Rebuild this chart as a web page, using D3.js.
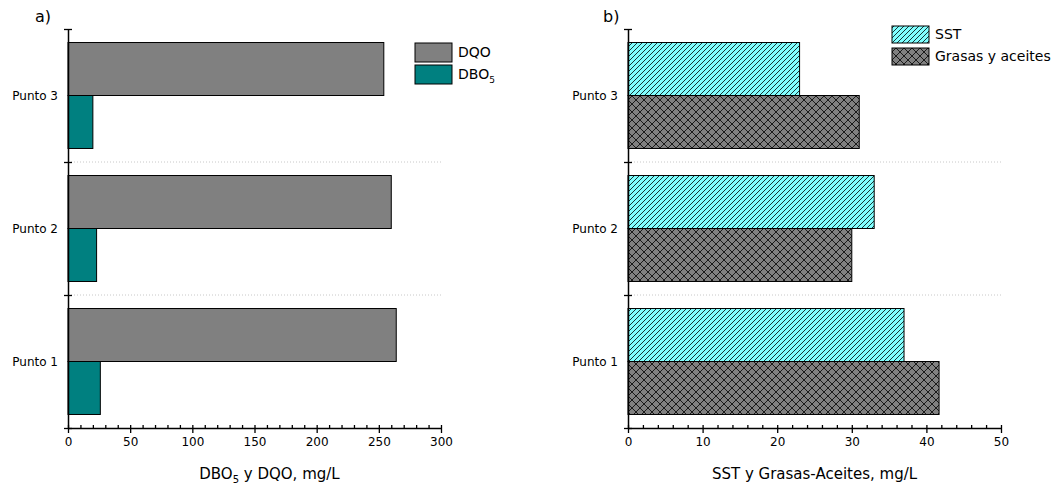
<!DOCTYPE html>
<html>
<head>
<meta charset="utf-8">
<script src="https://cdn.jsdelivr.net/npm/d3@7"></script>
<style>
  body { margin: 0; background: #fff; }
  text { font-family: Verdana, "DejaVu Sans", sans-serif; fill: #000; }
</style>
</head>
<body>
<svg id="chart" width="1051" height="488"></svg>
<script>
// data
let puntos = ["Punto 3", "Punto 2", "Punto 1"];
let dqo = [254, 260, 264];
let dbo5 = [20, 23, 26];
let sst = [23, 33, 37];
let grasas = [31, 30, 41.7];

let svg = d3.select("#chart");
let yTop = 29;
let yBottom = 428;

// patterns for panel b
let defs = svg.append("defs");
let hatch = defs.append("pattern")
  .attr("id", "hatchSST")
  .attr("patternUnits", "userSpaceOnUse")
  .attr("width", 5)
  .attr("height", 5);
hatch.append("rect").attr("width", 5).attr("height", 5).attr("fill", "#80ffff");
hatch.append("path")
  .attr("d", "M0,5 L5,0 M-1,1 L1,-1 M4,6 L6,4")
  .attr("stroke", "#000")
  .attr("stroke-width", 0.8);

let cross = defs.append("pattern")
  .attr("id", "crossGA")
  .attr("patternUnits", "userSpaceOnUse")
  .attr("width", 8)
  .attr("height", 8);
cross.append("rect").attr("width", 8).attr("height", 8).attr("fill", "#808080");
cross.append("path")
  .attr("d", "M0,0 L8,8 M8,0 L0,8")
  .attr("stroke", "#000")
  .attr("stroke-width", 0.8);

function drawPanel(p) {
  let x = d3.scaleLinear().domain([0, p.max]).range([p.left, p.right]);
  let y = d3.scaleBand().domain(puntos).range([yTop, yBottom]);
  let sub = d3.scaleBand().domain([0, 1]).range([0, y.bandwidth()])
    .paddingInner(0).paddingOuter(0.255);

  let g = svg.append("g");

  // dotted separators between points
  g.selectAll("line.sep")
    .data(puntos.slice(1))
    .enter()
    .append("line")
    .attr("class", "sep")
    .attr("x1", p.left + 3)
    .attr("x2", p.right)
    .attr("y1", (d) => y(d))
    .attr("y2", (d) => y(d))
    .attr("stroke", "#c8c8c8")
    .attr("stroke-dasharray", "1,2");

  // bars
  p.series.forEach(function (s, k) {
    g.selectAll("rect.s" + k)
      .data(s.values)
      .enter()
      .append("rect")
      .attr("class", "s" + k)
      .attr("x", x(0))
      .attr("y", (d, i) => y(puntos[i]) + sub(k))
      .attr("width", (d) => x(d) - x(0))
      .attr("height", sub.bandwidth())
      .attr("fill", s.fill)
      .attr("stroke", "#000")
      .attr("stroke-width", 1);
  });

  // x axis: minor ticks inward, major ticks outward
  g.append("g")
    .attr("transform", "translate(0," + yBottom + ")")
    .call(d3.axisBottom(x).tickValues(d3.range(0, p.max + 0.001, p.minor))
      .tickSize(-3).tickFormat(""))
    .call((a) => a.select(".domain").remove())
    .selectAll("line").attr("stroke-width", 1.3);

  let xa = g.append("g")
    .attr("transform", "translate(0," + yBottom + ")")
    .call(d3.axisBottom(x).tickValues(d3.range(0, p.max + 0.001, p.major))
      .tickSizeInner(5).tickSizeOuter(0).tickPadding(4));
  xa.select(".domain").attr("stroke-width", 1.5);
  xa.selectAll(".tick line").attr("stroke-width", 1.3);
  xa.selectAll("text").style("font-size", "12px").style("font-family", "Verdana, 'DejaVu Sans', sans-serif");

  // y axis: ticks at the boundaries, crossing the line
  let yb = d3.scaleLinear().domain([0, 3]).range([yBottom, yTop]);
  let ya = g.append("g")
    .attr("transform", "translate(" + p.left + ",0)")
    .call(d3.axisLeft(yb).ticks(3).tickSizeInner(4).tickSizeOuter(0).tickFormat(""));
  ya.select(".domain").attr("stroke-width", 1.5);
  ya.selectAll(".tick line").attr("x1", 4).attr("stroke-width", 1.3);

  g.selectAll("text.cat")
    .data(puntos)
    .enter()
    .append("text")
    .attr("class", "cat")
    .attr("x", p.left - 10)
    .attr("y", (d) => y(d) + y.bandwidth() / 2)
    .attr("dy", "0.35em")
    .attr("text-anchor", "end")
    .style("font-size", "12px")
    .text((d) => d);

  // axis title
  let t = g.append("text")
    .attr("x", (p.left + p.right) / 2 + p.titleShift)
    .attr("y", 479)
    .attr("text-anchor", "middle")
    .style("font-size", "15px");
  p.title(t);

  // panel letter
  g.append("text")
    .attr("x", p.letterX)
    .attr("y", 22)
    .style("font-size", "16px")
    .text(p.letter);

  // legend
  p.series.forEach(function (s, k) {
    let ly = p.legendY + k * p.legendStep;
    g.append("rect")
      .attr("x", p.legendX)
      .attr("y", ly)
      .attr("width", 37)
      .attr("height", p.legendH)
      .attr("fill", s.fill)
      .attr("stroke", "#000");
    let lt = g.append("text")
      .attr("x", p.legendX + 43)
      .attr("y", ly + p.legendH / 2)
      .attr("dy", "0.35em")
      .style("font-size", "14px");
    s.label(lt);
  });
}

drawPanel({
  left: 68, right: 441, max: 300, major: 50, minor: 10,
  letter: "a)", letterX: 35, titleShift: 15,
  legendX: 415, legendY: 43, legendStep: 22, legendH: 19,
  series: [
    { values: dqo, fill: "#808080", label: (t) => t.text("DQO") },
    { values: dbo5, fill: "#008080", label: function (t) {
        t.append("tspan").text("DBO");
        t.append("tspan").attr("dy", 4).style("font-size", "9px").text("5");
      } }
  ],
  title: function (t) {
    t.append("tspan").text("DBO");
    t.append("tspan").attr("dy", 4).style("font-size", "10px").text("5");
    t.append("tspan").attr("dy", -4).text(" y DQO, mg/L");
  }
});

drawPanel({
  left: 628, right: 1001, max: 50, major: 10, minor: 2,
  letter: "b)", letterX: 603, titleShift: 0,
  legendX: 892, legendY: 26, legendStep: 22, legendH: 17,
  series: [
    { values: sst, fill: "url(#hatchSST)", label: (t) => t.text("SST") },
    { values: grasas, fill: "url(#crossGA)", label: (t) => t.text("Grasas y aceites") }
  ],
  title: (t) => t.text("SST y Grasas-Aceites, mg/L")
});
</script>
</body>
</html>
